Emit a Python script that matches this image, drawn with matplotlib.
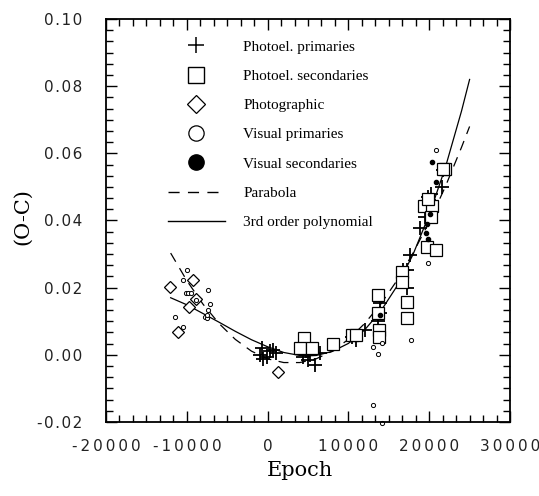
import matplotlib
matplotlib.use("Agg")
import matplotlib.pyplot as plt
from matplotlib.lines import Line2D
from matplotlib.ticker import MultipleLocator, FuncFormatter

plt.rcParams['axes.unicode_minus'] = False

# Photoel. primaries (+)
pp_x = [-740, -40, 700, -940, -530, 300, 1000,
        4400, 5850, 5250, 6480, 5030, 4800,
        11000, 10500, 12050, 13900, 13900, 13700,
        16700, 17200, 17200, 17600, 18870, 19500, 20000, 20200, 19700,
        20300, 21530, 21750, 19900]
pp_y = [0.0019, -0.0006, 0.0014, -0.0001, -0.0011, 0.0010, 0.0004,
        -0.0006, -0.0030, -0.0001, 0.0004, -0.0015, 0.0010,
        0.0044, 0.0052, 0.0074, 0.0153, 0.0124, 0.0100,
        0.0253, 0.0253, 0.0198, 0.0297, 0.0377, 0.0411, 0.0461, 0.0480, 0.0440,
        0.0430, 0.0501, 0.0550, 0.0470]

# Photoel. secondaries (squares)
ps_x = [4500, 4000, 5440, 8120, 10400, 10900, 13700, 13700, 13830, 13830,
        16600, 16600, 17300, 17300, 19300, 20300, 19900, 20200, 19750, 20850,
        21950, 21700]
ps_y = [0.0049, 0.0019, 0.0019, 0.0031, 0.0059, 0.0059, 0.0178, 0.0124, 0.0074, 0.0054,
        0.0247, 0.0218, 0.0158, 0.0109, 0.0443, 0.0443, 0.0465, 0.0410, 0.0322, 0.0311,
        0.0553, 0.0553]

# Photographic (diamonds)
ph_x = [-12100, -9200, -9700, -11050, -8900, 1330]
ph_y = [0.0201, 0.0223, 0.0143, 0.0069, 0.0165, -0.0050]

# Visual primaries (small open circles)
vp_x = [-9950, -10440, -7420, -10100, -9800, -9500, -8860, -7130, -7340, -7750,
        -7500, -11460, -10430, -7550,
        20850, 19800, 17800, 13080, 14120, 13620, 13080, 14120]
vp_y = [0.0254, 0.0223, 0.0193, 0.0183, 0.0183, 0.0183, 0.0163, 0.0151, 0.0133, 0.0113,
        0.0110, 0.0113, 0.0084, 0.0118,
        0.0610, 0.0273, 0.0044, 0.0022, 0.0034, 0.0002, -0.0150, -0.0204]

# Visual secondaries (small filled dots)
vs_x = [20300, 20850, 19550, 19700, 20100, 13950, 19900]
vs_y = [0.0575, 0.0515, 0.0362, 0.0390, 0.0420, 0.0120, 0.0345]

# fitted curves
par_x = [-12000, -10000, -8000, -6000, -4000, -2000, 0, 2000, 4000, 6000, 8000,
         10000, 12000, 14000, 16000, 18000, 20000, 22000, 24000, 25000]
par_y = [0.0303, 0.0221, 0.0151, 0.0093, 0.0046, 0.0011, -0.0012, -0.0023, -0.0023, -0.0012,
         0.0011, 0.0046, 0.0093, 0.0151, 0.0221, 0.0303, 0.0396, 0.0501, 0.0618, 0.0680]

cub_x = [-12000, -10000, -8000, -6000, -4000, -2000, 0, 2000, 4000, 5000, 6000, 8000,
         10000, 12000, 14000, 16000, 18000, 20000, 22000, 24000, 25000]
cub_y = [0.0170, 0.0149, 0.0123, 0.0097, 0.0070, 0.0045, 0.0024, 0.0007, -0.0002, -0.0003,
         -0.0002, 0.0010, 0.0034, 0.0074, 0.0130, 0.0204, 0.0299, 0.0417, 0.0558, 0.0726, 0.0820]

labels = ['Photoel. primaries', 'Photoel. secondaries', 'Photographic',
          'Visual primaries', 'Visual secondaries', 'Parabola', '3rd order polynomial']

fig = plt.figure(figsize=(5.39, 4.96), dpi=100)
ax = fig.add_axes([0.1967, 0.1492, 0.7495, 0.8125])

ax.plot(par_x, par_y, color='black', lw=0.9, ls=(0, (8, 6)))
ax.plot(cub_x, cub_y, color='black', lw=0.9)

ax.plot(pp_x, pp_y, ls='none', marker='+', ms=10, mew=1.3, color='black')
ax.plot(ps_x, ps_y, ls='none', marker='s', ms=8.5, mew=0.9, mfc='white', mec='black')
ax.plot(ph_x, ph_y, ls='none', marker='D', ms=6.5, mew=0.9, mfc='white', mec='black')
ax.plot(vp_x, vp_y, ls='none', marker='o', ms=3, mew=0.7, mfc='white', mec='black',
        clip_on=False)
ax.plot(vs_x, vs_y, ls='none', marker='o', ms=3, color='black')

ax.set_xlim(-20000, 30000)
ax.set_ylim(-0.02, 0.10)
ax.xaxis.set_major_locator(MultipleLocator(10000))
ax.xaxis.set_minor_locator(MultipleLocator(10000 / 6))
ax.yaxis.set_major_locator(MultipleLocator(0.02))
ax.yaxis.set_minor_locator(MultipleLocator(0.02 / 6))


def spaced(s, sep='\u2009'):
    return sep.join(s)


ax.xaxis.set_major_formatter(FuncFormatter(lambda v, p: spaced('%d' % round(v))))
ax.yaxis.set_major_formatter(FuncFormatter(lambda v, p: spaced('%.2f' % v, '\u200a')))

ax.tick_params(which='both', direction='in', top=True, right=True, width=1, color='black')
ax.tick_params(which='major', length=8, labelsize=11)
ax.tick_params(which='minor', length=5)
ax.tick_params(axis='x', pad=12)
ax.tick_params(axis='y', pad=17)
for lab in ax.get_xticklabels() + ax.get_yticklabels():
    lab.set_family('DejaVu Sans')
    lab.set_color('#222222')
for sp in ax.spines.values():
    sp.set_linewidth(1.3)

ax.set_xlabel('Epoch', family='DejaVu Serif', fontsize=15)
ax.set_ylabel('(O-C)', family='DejaVu Serif', fontsize=15)
ax.xaxis.set_label_coords(0.48, -0.097)
ax.yaxis.set_label_coords(-0.183, 0.51)

handles = [
    Line2D([], [], ls='none', marker='+', ms=12, mew=1.1, color='black'),
    Line2D([], [], ls='none', marker='s', ms=12, mew=1.0, mfc='white', mec='black'),
    Line2D([], [], ls='none', marker='D', ms=9, mew=0.9, mfc='white', mec='black'),
    Line2D([], [], ls='none', marker='o', ms=11, mew=0.9, mfc='white', mec='black'),
    Line2D([], [], ls='none', marker='o', ms=11, color='black'),
    Line2D([], [], color='black', lw=1.0, ls=(0, (8, 6))),
    Line2D([], [], color='black', lw=1.0),
]
ax.legend(handles, labels, loc='upper left', bbox_to_anchor=(0.153, 0.948),
          frameon=False, borderpad=0, borderaxespad=0, handlelength=3.75,
          handletextpad=1.2, labelspacing=1.02,
          prop={'family': 'Liberation Serif', 'size': 11})

fig.savefig('out.png', dpi=100)
